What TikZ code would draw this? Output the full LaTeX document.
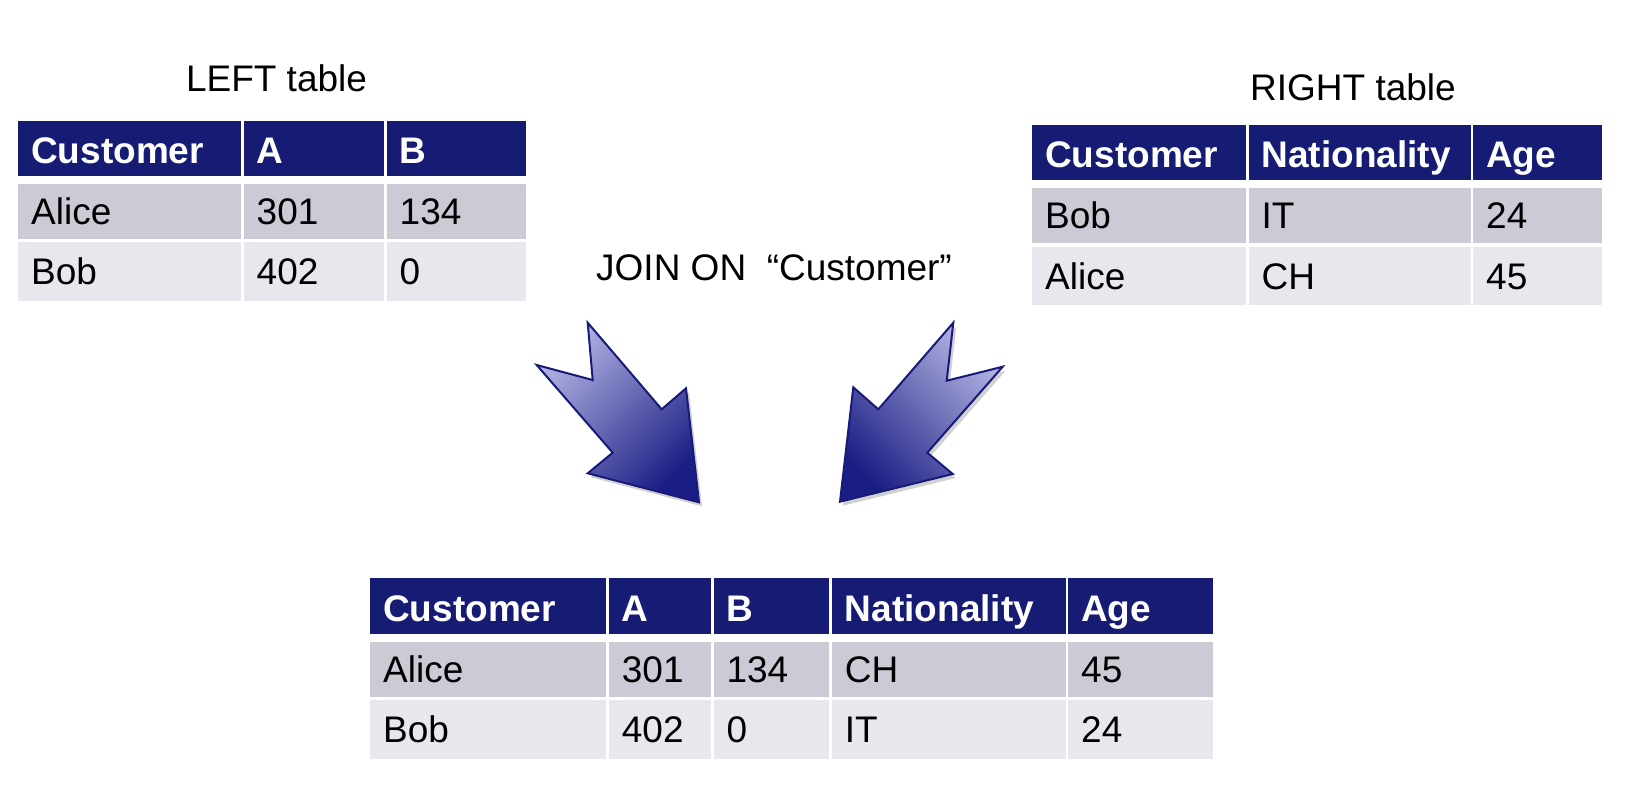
\documentclass[tikz,border=0pt]{standalone}
\usepackage{fontspec}
\setmainfont{Liberation Sans}
\usetikzlibrary{positioning}
\definecolor{hdrblue}{RGB}{22,27,116}
\definecolor{rowdark}{RGB}{203,203,214}
\definecolor{rowlight}{RGB}{231,231,237}
\definecolor{arrowline}{RGB}{24,26,122}
\definecolor{arrowdark}{RGB}{26,30,132}
\definecolor{arrowmid}{RGB}{118,120,196}
\definecolor{arrowlight}{RGB}{178,178,226}
\tikzset{
  cell/.style={anchor=north west, inner xsep=13pt, inner ysep=0pt,
    text depth=0pt, align=left, font=\fontsize{37}{44}\selectfont},
  hdr/.style={cell, fill=hdrblue, text=white,
    font=\fontsize{37}{44}\selectfont\bfseries, text height=30pt},
  rowa/.style={cell, fill=rowdark, text height=26.5pt},
  rowb/.style={cell, fill=rowlight, text height=26.5pt},
  title/.style={anchor=base, inner sep=0pt, font=\fontsize{37}{44}\selectfont},
  bigarrow/.style={draw=arrowline, line width=2pt, line join=miter,
    preaction={fill=black, opacity=0.18, transform canvas={xshift=3pt,yshift=-4pt}}}
}
\begin{document}
\begin{tikzpicture}[x=1pt,y=-1pt]
\useasboundingbox (0,0) rectangle (1626,788);
% Titles
  \node[title] (lefttitle) at (276.5,91.5) {LEFT table};
  \node[title] (righttitle) at (1353,100.5) {RIGHT table};
  \node[title, anchor=base west] (jointitle) at (596,280) {JOIN ON\ \ “Customer”};
%
% LEFT table
%
% Header row
  \node[hdr, text width=196.5pt, minimum height=55pt] (lh1) at (18,121) {Customer};
  \node[hdr, text width=114pt, minimum height=55pt] (lh2) at (243.5,121) {A};
  \node[hdr, text width=113.5pt, minimum height=55pt] (lh3) at (386.5,121) {B};
% Row no1
  \node[rowa, text width=196.5pt, minimum height=55pt] (l11) at (18,184) {Alice};
  \node[rowa, text width=114pt, minimum height=55pt] (l12) at (243.5,184) {301};
  \node[rowa, text width=113.5pt, minimum height=55pt] (l13) at (386.5,184) {134};
% Row no2
  \node[rowb, text width=196.5pt, minimum height=58.5pt] (l21) at (18,242) {Bob};
  \node[rowb, text width=114pt, minimum height=58.5pt] (l22) at (243.5,242) {402};
  \node[rowb, text width=113.5pt, minimum height=58.5pt] (l23) at (386.5,242) {0};
%
% RIGHT table
%
% Header row
  \node[hdr, text width=188pt, minimum height=55pt] (rh1) at (1032,125) {Customer};
  \node[hdr, text width=196pt, minimum height=55pt] (rh2) at (1248.5,125) {Nationality};
  \node[hdr, text width=103pt, minimum height=55pt] (rh3) at (1473,125) {Age};
% Row no1
  \node[rowa, text width=188pt, minimum height=55pt] (r11) at (1032,188) {Bob};
  \node[rowa, text width=196pt, minimum height=55pt] (r12) at (1248.5,188) {IT};
  \node[rowa, text width=103pt, minimum height=55pt] (r13) at (1473,188) {24};
% Row no2
  \node[rowb, text width=188pt, minimum height=58.5pt] (r21) at (1032,246.5) {Alice};
  \node[rowb, text width=196pt, minimum height=58.5pt] (r22) at (1248.5,246.5) {CH};
  \node[rowb, text width=103pt, minimum height=58.5pt] (r23) at (1473,246.5) {45};
%
% Join arrows
%
% Arrow from left table
  \shade[bigarrow, left color=arrowlight, middle color=arrowmid, right color=arrowdark, shading angle=45]
    (587.7,322.7) -- (661.7,409.3) -- (686,388.3) -- (699,502.3) -- (587.7,473.3)
    -- (612.7,452.7) -- (536.7,365) -- (592.7,380) -- cycle;
% Arrow from right table
  \shade[bigarrow, left color=arrowlight, middle color=arrowmid, right color=arrowdark, shading angle=-45]
    (953.3,322.7) -- (878.3,409.3) -- (853.3,387.3) -- (840,501.7) -- (952.7,474)
    -- (927.3,452.7) -- (1002.7,366.7) -- (946.7,380.7) -- cycle;
%
% JOINED table
%
% Header row
  \node[hdr, text width=210pt, minimum height=56pt] (jh1) at (370,578) {Customer};
  \node[hdr, text width=76.3pt, minimum height=56pt] (jh2) at (608.7,578) {A};
  \node[hdr, text width=89.4pt, minimum height=56pt] (jh3) at (713.3,578) {B};
  \node[hdr, text width=207.6pt, minimum height=56pt] (jh4) at (831.7,578) {Nationality};
  \node[hdr, text width=118.3pt, minimum height=56pt] (jh5) at (1068,578) {Age};
% Row no1
  \node[rowa, text width=210pt, minimum height=55pt] (j11) at (370,642) {Alice};
  \node[rowa, text width=76.3pt, minimum height=55pt] (j12) at (608.7,642) {301};
  \node[rowa, text width=89.4pt, minimum height=55pt] (j13) at (713.3,642) {134};
  \node[rowa, text width=207.6pt, minimum height=55pt] (j14) at (831.7,642) {CH};
  \node[rowa, text width=118.3pt, minimum height=55pt] (j15) at (1068,642) {45};
% Row no2
  \node[rowb, text width=210pt, minimum height=58.3pt] (j21) at (370,700) {Bob};
  \node[rowb, text width=76.3pt, minimum height=58.3pt] (j22) at (608.7,700) {402};
  \node[rowb, text width=89.4pt, minimum height=58.3pt] (j23) at (713.3,700) {0};
  \node[rowb, text width=207.6pt, minimum height=58.3pt] (j24) at (831.7,700) {IT};
  \node[rowb, text width=118.3pt, minimum height=58.3pt] (j25) at (1068,700) {24};
\end{tikzpicture}
\end{document}
